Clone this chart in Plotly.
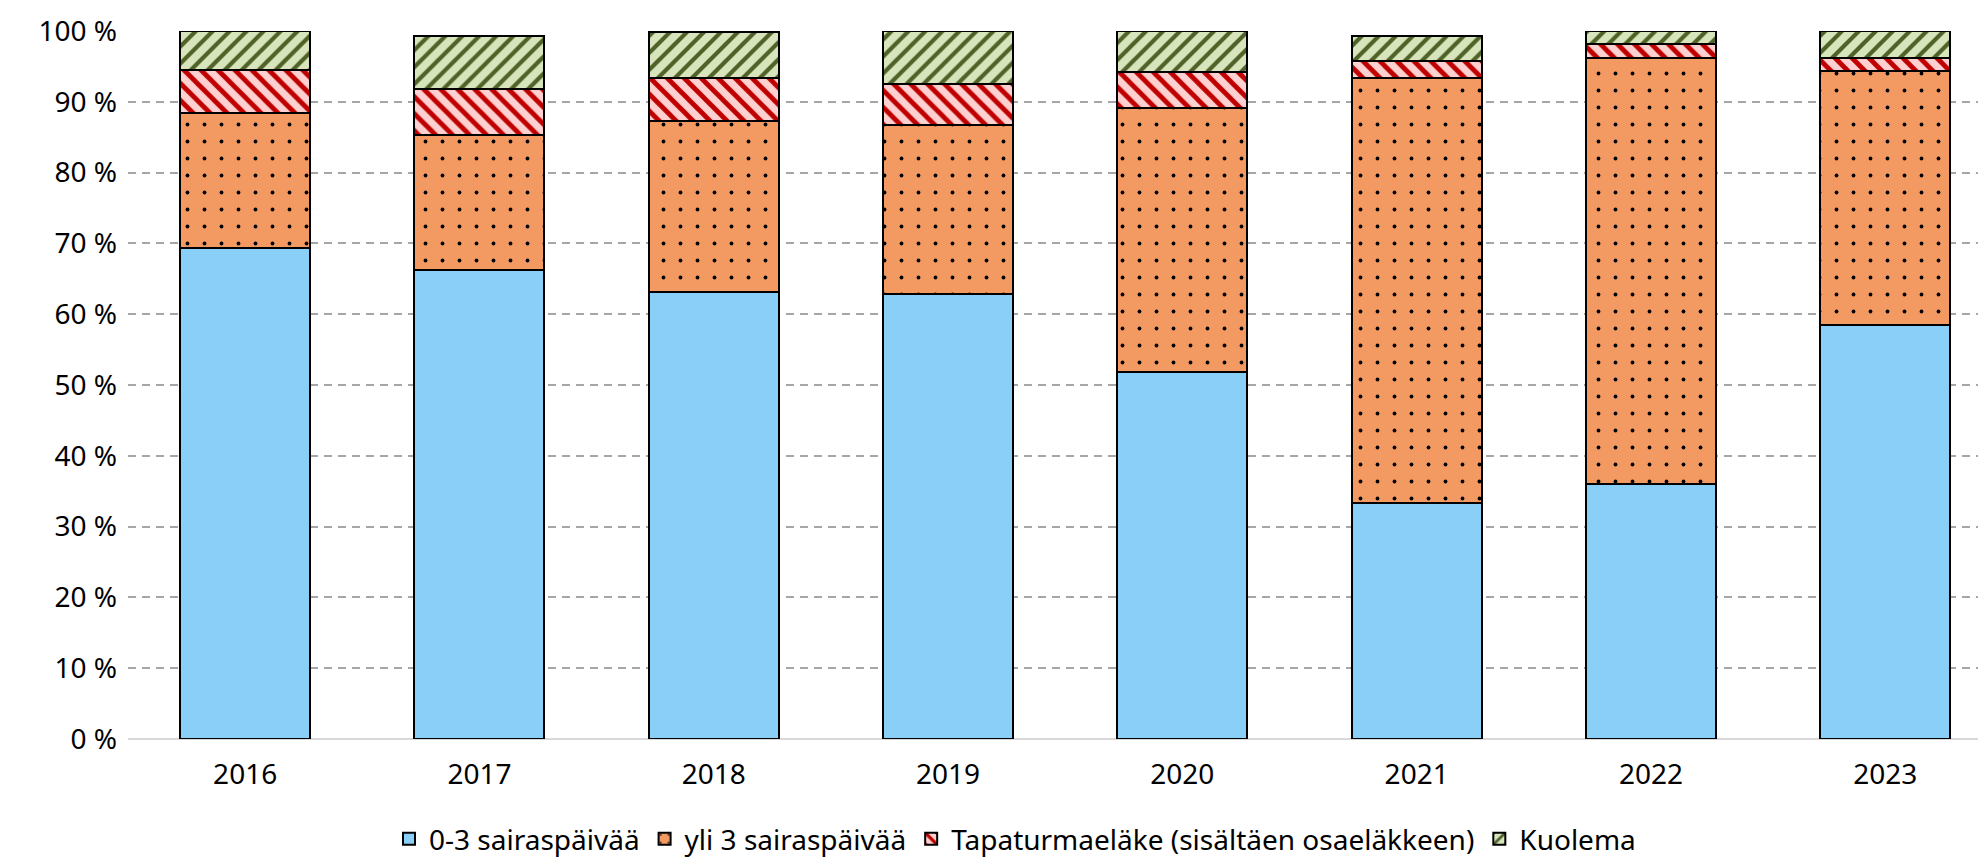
import plotly.graph_objects as go

years = ["2016", "2017", "2018", "2019", "2020", "2021", "2022", "2023"]
s_0_3 = [69.3, 66.2, 63.1, 62.9, 51.9, 33.3, 36.0, 58.5]
s_yli3 = [19.1, 19.1, 24.2, 23.8, 37.2, 60.0, 60.2, 35.8]
s_elake = [6.1, 6.5, 6.0, 5.8, 5.1, 2.5, 2.0, 1.9]
s_kuolema = [5.5, 7.5, 6.6, 7.5, 5.8, 3.5, 1.8, 3.8]
y_ticks = list(range(0, 101, 10))
y_ticktext = [f"{v} %" for v in y_ticks]

names = ["0-3 sairaspäivää", "yli 3 sairaspäivää",
         "Tapaturmaeläke (sisältäen osaeläkkeen)", "Kuolema"]

FONT = "Segoe UI, Noto Sans, Open Sans, sans-serif"
W, H = 1986, 860
L, R, T, B = 120, 0, 23, 129

fig = go.Figure()
line = dict(color="black", width=2)
fig.add_trace(go.Bar(x=years, y=s_0_3, name=names[0],
                     marker=dict(color="#89CFF7", line=line)))
fig.add_trace(go.Bar(x=years, y=s_yli3, name=names[1],
                     marker=dict(color="#F39A62", line=line,
                                 pattern=dict(shape=".", fgcolor="black", bgcolor="#F39A62",
                                              size=17, solidity=0.04, fillmode="replace"))))
fig.add_trace(go.Bar(x=years, y=s_elake, name=names[2],
                     marker=dict(color="#FFD0D0", line=line,
                                 pattern=dict(shape="\\", fgcolor="#C00000", bgcolor="#FFD0D0",
                                              size=12, solidity=0.4, fillmode="replace"))))
fig.add_trace(go.Bar(x=years, y=s_kuolema, name=names[3],
                     marker=dict(color="#D8E4BC", line=line,
                                 pattern=dict(shape="/", fgcolor="#4F6228", bgcolor="#D8E4BC",
                                              size=12, solidity=0.35, fillmode="replace"))))

plot_w = W - L - R
cat_w = 234.3
right_end = -0.5 + plot_w / cat_w

fig.update_layout(
    width=W, height=H,
    barmode="stack", bargap=1 - 130 / cat_w,
    margin=dict(l=L, r=R, t=T, b=B, pad=0, autoexpand=False),
    paper_bgcolor="white", plot_bgcolor="white",
    font=dict(family=FONT, size=28, color="#000000"),
    showlegend=True,
    legend=dict(orientation="h", xref="paper", x=(1007 - L) / plot_w, xanchor="center",
                yref="paper", y=-(831 - 731) / 708, yanchor="middle",
                font=dict(size=28), traceorder="normal", itemwidth=30),
    xaxis=dict(range=[-0.5, right_end], showgrid=False, showline=False,
               ticks="", ticklabelstandoff=16, tickfont=dict(size=28)),
    yaxis=dict(range=[0, 100], tickvals=y_ticks, ticktext=y_ticktext,
               showgrid=True, gridcolor="#A6A6A6", griddash="8px,6px", gridwidth=2,
               zeroline=True, zerolinecolor="#D9D9D9", zerolinewidth=2,
               showline=False, ticks="", ticklabelstandoff=10, tickfont=dict(size=28)),
)

fig.write_html("out.html")
